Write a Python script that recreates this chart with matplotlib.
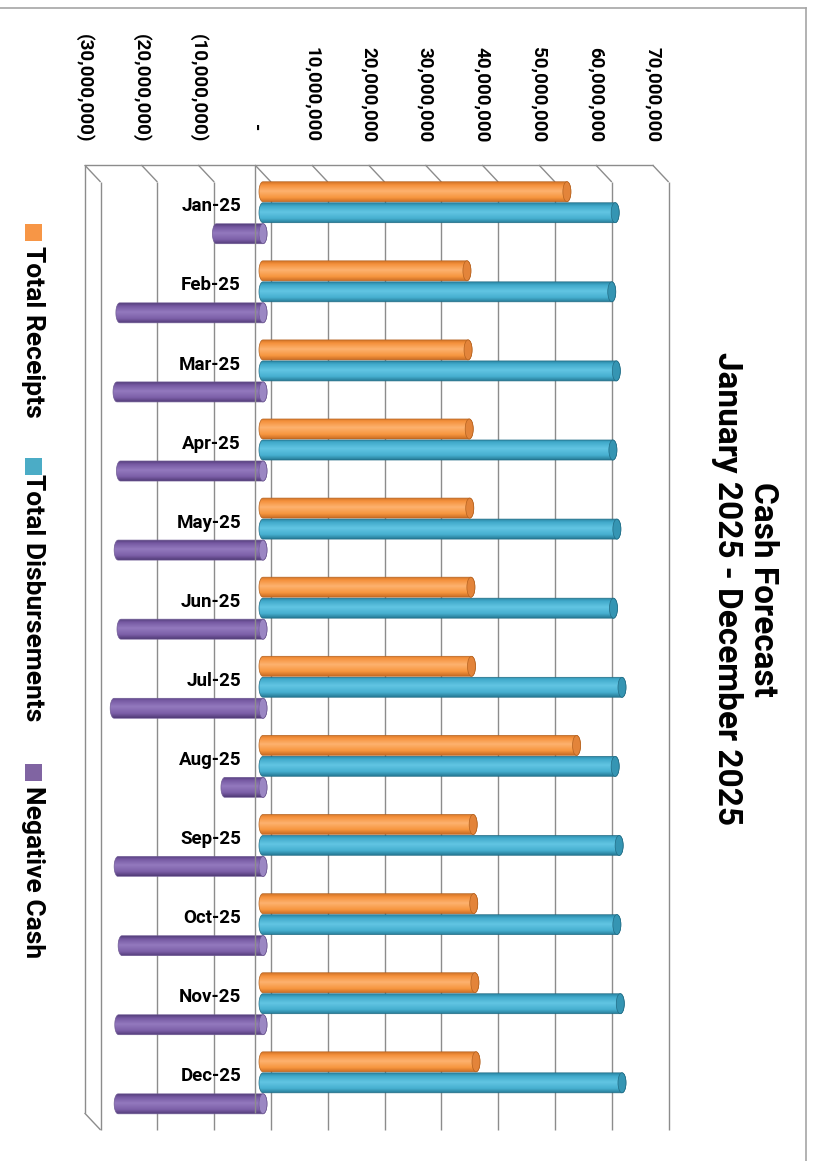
import numpy as np
import matplotlib
matplotlib.use("Agg")
import matplotlib.pyplot as plt
from matplotlib.patches import Ellipse, Rectangle, PathPatch
from matplotlib.path import Path
from matplotlib.lines import Line2D
from matplotlib.colors import to_rgb
from matplotlib.transforms import offset_copy, blended_transform_factory, IdentityTransform

# ---------------- data ----------------
months = ["Jan-25", "Feb-25", "Mar-25", "Apr-25", "May-25", "Jun-25",
          "Jul-25", "Aug-25", "Sep-25", "Oct-25", "Nov-25", "Dec-25"]
total_receipts = [53_500_000, 35_900_000, 36_100_000, 36_300_000, 36_400_000, 36_600_000,
                  36_700_000, 55_200_000, 37_000_000, 37_100_000, 37_300_000, 37_500_000]
total_disbursements = [62_000_000, 61_400_000, 62_200_000, 61_600_000, 62_300_000, 61_700_000,
                       63_200_000, 62_000_000, 62_700_000, 62_300_000, 62_900_000, 63_200_000]
negative_cash = [-8_200_000, -25_200_000, -25_700_000, -25_100_000, -25_500_000, -25_000_000,
                 -26_200_000, -6_700_000, -25_500_000, -24_800_000, -25_400_000, -25_500_000]
series_names = ["Total Receipts", "Total Disbursements", "Negative Cash"]
tick_values = [-30_000_000, -20_000_000, -10_000_000, 0, 10_000_000, 20_000_000,
               30_000_000, 40_000_000, 50_000_000, 60_000_000, 70_000_000]
tick_labels = ["(30,000,000)", "(20,000,000)", "(10,000,000)", "-", "10,000,000",
               "20,000,000", "30,000,000", "40,000,000", "50,000,000", "60,000,000", "70,000,000"]
title_text = "Cash Forecast\nJanuary 2025 - December 2025"

# ---------------- styling ----------------
plt.rcParams['font.family'] = ['Roboto', 'DejaVu Sans']
W, H = 814, 1161
fig = plt.figure(figsize=(W / 100, H / 100), dpi=100)
fig.patch.set_facecolor('white')

AL, AR, AT, AB = 60, 700, 150, 1150
ZERO_PX = 263.0
PX_PER_UNIT = 5.68e-6
ROW0, ROW_STEP = 212.7, 79.1

ax = fig.add_axes([AL / W, 1 - AB / H, (AR - AL) / W, (AB - AT) / H])
ax.set_axis_off()
ax.patch.set_visible(False)
ax.set_xlim((AL - ZERO_PX) / PX_PER_UNIT, (AR - ZERO_PX) / PX_PER_UNIT)
ax.set_ylim((AB - ROW0) / ROW_STEP, (AT - ROW0) / ROW_STEP)
ax.set_autoscale_on(False)

def px(v):
    return ax.transData.transform((v, 0))[0]

grid_c = '#8c8c8c'
glw = 1.0
TOP_BACK, TOP_FRONT, BOT_BACK, BOT_FRONT = 165, 182, 1113, 1130
BACK_OFF, FRONT_OFF = -8, 8

def pline(xs, ys, z=0.5, c=grid_c, lw=glw):
    ax.add_line(Line2D(xs, [H - y for y in ys], transform=IdentityTransform(),
                       color=c, lw=lw, zorder=z, clip_on=False,
                       solid_capstyle='butt'))

# top edge
pline([px(tick_values[0]) + BACK_OFF, px(tick_values[-1]) + BACK_OFF], [TOP_BACK, TOP_BACK])
for v in tick_values:
    xb, xf = px(v) + BACK_OFF, px(v) + FRONT_OFF
    pline([xb, xf], [TOP_BACK, TOP_FRONT])
    pline([xf, xf], [TOP_FRONT, BOT_FRONT])
# left wall
xl = px(tick_values[0]) + BACK_OFF
pline([xl, xl], [TOP_BACK, BOT_BACK])
pline([xl, xl + (FRONT_OFF - BACK_OFF)], [BOT_BACK, BOT_FRONT])

# ---------------- bars ----------------
def stops_to_grad(stops, n=64):
    pos = np.array([s[0] for s in stops])
    cols = np.array([to_rgb(s[1]) for s in stops])
    t = np.linspace(0, 1, n)
    g = np.stack([np.interp(t, pos, cols[:, k]) for k in range(3)], axis=1)
    return g[:, None, :]

styles = [
    dict(vals=total_receipts, off=-21 / ROW_STEP,
         grad=[(0, '#D47629'), (0.15, '#F5913C'), (0.45, '#FDB26F'), (0.78, '#F7963F'), (1, '#C96C24')],
         cap='#E3843A', capedge='#B5621F', legend='#F79646'),
    dict(vals=total_disbursements, off=0.0,
         grad=[(0, '#2B87A5'), (0.15, '#41AACB'), (0.45, '#62C5E3'), (0.78, '#46AFCF'), (1, '#267A95')],
         cap='#3595B3', capedge='#216C85', legend='#4BACC6'),
    dict(vals=negative_cash, off=21 / ROW_STEP,
         grad=[(0, '#56407E'), (0.15, '#7659A2'), (0.45, '#9379BE'), (0.78, '#7C5FA8'), (1, '#513B77')],
         cap='#9B87C3', capedge='#6F5A94', legend='#8064A2'),
]

A = 4.0 / PX_PER_UNIT          # end-ellipse half width (data units)
HH = 10.0 / ROW_STEP           # bar half height (category units)

def draw_bar(v, yc, st, z):
    x0, x1 = min(0, v), max(0, v)
    tl = np.linspace(np.pi / 2, 3 * np.pi / 2, 24)
    tr = np.linspace(-np.pi / 2, np.pi / 2, 24)
    left = np.column_stack([x0 + A * np.cos(tl), yc + HH * np.sin(tl)])
    right = np.column_stack([x1 + A * np.cos(tr), yc + HH * np.sin(tr)])
    verts = np.vstack([left, right, left[:1]])
    codes = [Path.MOVETO] + [Path.LINETO] * (len(verts) - 2) + [Path.CLOSEPOLY]
    path = Path(verts, codes)
    patch = PathPatch(path, facecolor='none', edgecolor=st['capedge'], lw=0.5,
                      transform=ax.transData, zorder=z + 0.05)
    ax.add_patch(patch)
    im = ax.imshow(stops_to_grad(st['grad']), extent=[x0 - A, x1 + A, yc + HH, yc - HH],
                   aspect='auto', interpolation='bilinear', origin='upper', zorder=z)
    im.set_clip_path(patch)
    ax.add_patch(Ellipse((x1, yc), 2 * A, 2 * HH, facecolor=st['cap'],
                         edgecolor=st['capedge'], lw=0.5, zorder=z + 0.1))

for si, st in enumerate(styles):
    for i, v in enumerate(st['vals']):
        draw_bar(v, i + st['off'], st, 2 + si * 0.01 + i * 0.0001)

# zero back line drawn over bars
x0b = px(0) + BACK_OFF
pline([x0b, x0b], [TOP_BACK, BOT_BACK], z=5)

# ---------------- category labels ----------------
cat_tr = offset_copy(ax.transData, fig=fig, x=-22, y=0, units='dots')
for i, m in enumerate(months):
    ax.text(0, i - 0.08, m, transform=cat_tr, ha='right', va='center',
            fontsize=13.5, fontweight='bold', color='black', zorder=6)

# ---------------- value tick labels ----------------
tick_tr = blended_transform_factory(offset_copy(ax.transData, fig=fig, x=BACK_OFF, y=0, units='dots'),
                                    fig.transFigure)
for v, lab in zip(tick_values, tick_labels):
    if lab == "-":
        ax.text(v, 1 - 128 / H, lab, transform=tick_tr, rotation=-90, ha='center', va='center',
                fontsize=13.5, fontweight='bold', clip_on=False)
    else:
        ax.text(v, 1 - 142 / H, lab, transform=tick_tr, rotation=-90, ha='center', va='bottom',
                fontsize=13.5, fontweight='bold', clip_on=False)

# ---------------- title ----------------
fig.text(745 / W, 1 - 589 / H, title_text, rotation=-90, ha='center', va='center',
         multialignment='center', fontsize=24, fontweight='bold', linespacing=1.15)

# ---------------- legend ----------------
leg_marker_top = [224, 458, 764]
leg_text_top = [246, 474, 786]
for name, st, mt, tt in zip(series_names, styles, leg_marker_top, leg_text_top):
    fig.add_artist(Rectangle((25 / W, 1 - (mt + 17) / H), 17 / W, 17 / H,
                             transform=fig.transFigure, facecolor=st['legend'], edgecolor='none'))
    fig.text(33 / W, 1 - tt / H, name, rotation=-90, ha='center', va='top',
             fontsize=19, fontweight='bold')

# ---------------- outer frame ----------------
fig.add_artist(Line2D([0, 806 / W], [1 - 8 / H, 1 - 8 / H], transform=fig.transFigure,
                      color='#a6a6a6', lw=1.2))
fig.add_artist(Line2D([806 / W, 806 / W], [1 - 8 / H, 0], transform=fig.transFigure,
                      color='#a6a6a6', lw=1.2))

fig.savefig("out.png", dpi=100)
